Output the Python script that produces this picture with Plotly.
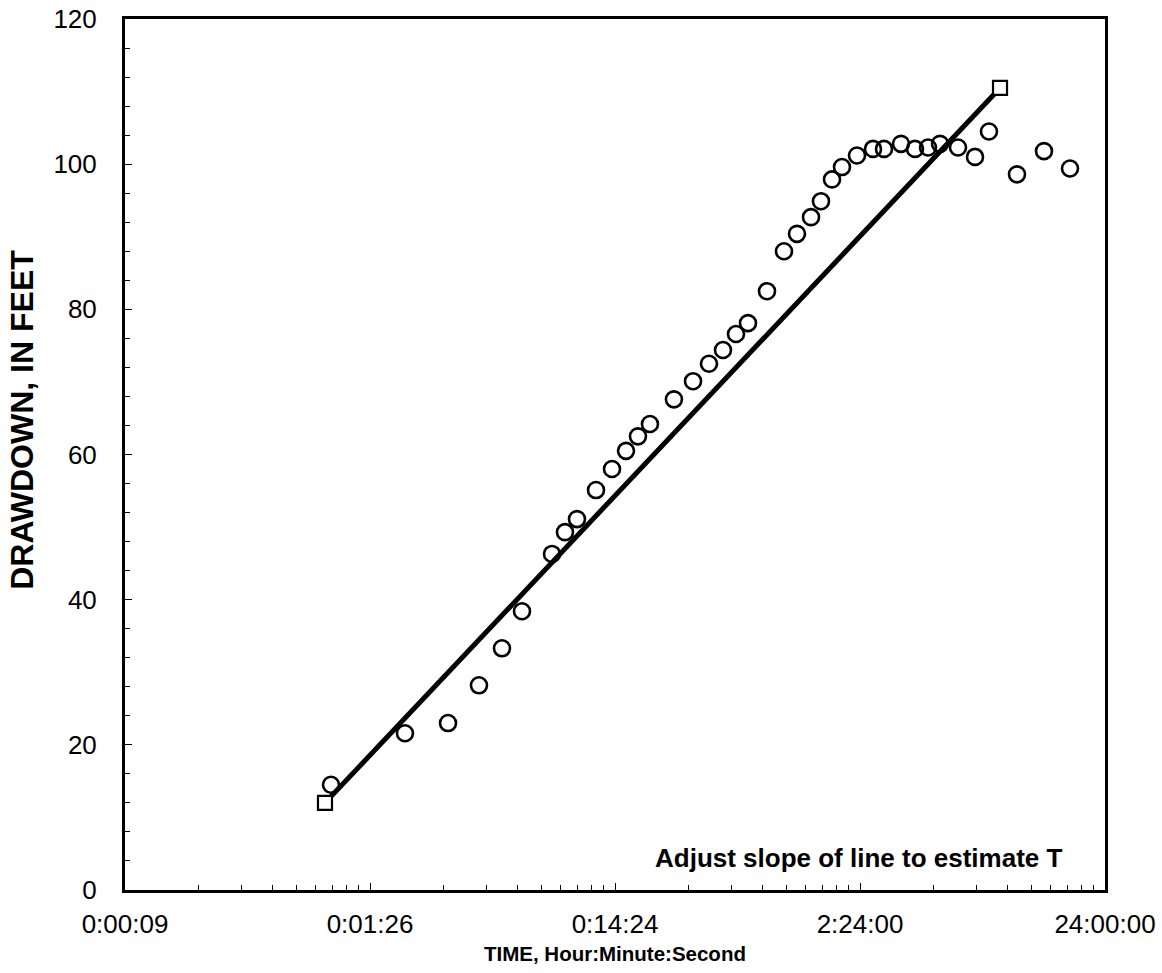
import plotly.graph_objects as go

# Time in days (log axis), drawdown in feet
obs_time_days = [6.93e-4, 1.389e-3, 2.082e-3, 2.785e-3, 3.457e-3, 4.173e-3, 5.531e-3, 6.250e-3,
                 6.996e-3, 8.365e-3, 9.723e-3, 1.109e-2, 1.241e-2, 1.389e-2, 1.740e-2, 2.082e-2,
                 2.419e-2, 2.759e-2, 3.118e-2, 3.490e-2, 4.173e-2, 4.895e-2, 5.531e-2, 6.310e-2,
                 6.930e-2, 7.687e-2, 8.443e-2, 9.723e-2, 0.1130, 0.1253, 0.1470, 0.1677,
                 0.1895, 0.2121, 0.2512, 0.2947, 0.3361, 0.4373, 0.5636, 0.7197]
obs_drawdown_ft = [14.5, 21.6, 23.0, 28.2, 33.3, 38.4, 46.3, 49.3,
                   51.1, 55.1, 58.0, 60.5, 62.5, 64.2, 67.6, 70.1,
                   72.5, 74.4, 76.6, 78.1, 82.5, 88.0, 90.4, 92.7,
                   94.9, 97.9, 99.6, 101.2, 102.1, 102.1, 102.8, 102.1,
                   102.3, 102.8, 102.3, 101.0, 104.5, 98.6, 101.8, 99.4]

fit_time_days = [6.55e-4, 0.3728]
fit_drawdown_ft = [12.0, 110.5]

x_tick_vals = [1e-4, 1e-3, 1e-2, 1e-1, 1.0]
x_tick_text = ["0:00:09", "0:01:26", "0:14:24", "2:24:00", "24:00:00"]
x_minor_vals = [m * 10.0 ** e for e in range(-4, 0) for m in range(2, 10)]

FONT = "Arial, Liberation Sans, Helvetica, sans-serif"

fig = go.Figure()
fig.add_trace(go.Scatter(
    x=obs_time_days, y=obs_drawdown_ft, mode="markers",
    marker=dict(symbol="circle-open", size=16, color="black", line=dict(width=2.6, color="black")),
    showlegend=False, hoverinfo="x+y"))
fig.add_trace(go.Scatter(
    x=fit_time_days, y=fit_drawdown_ft, mode="lines",
    line=dict(color="black", width=5), showlegend=False))
fig.add_trace(go.Scatter(
    x=fit_time_days, y=fit_drawdown_ft, mode="markers",
    marker=dict(symbol="square", size=14, color="white", line=dict(width=2.2, color="black")),
    showlegend=False))

fig.update_xaxes(
    type="log", range=[-4, 0], automargin=False,
    tickmode="array", tickvals=x_tick_vals, ticktext=x_tick_text,
    ticks="inside", ticklen=7, tickwidth=1, tickcolor="black",
    minor=dict(tickmode="array", tickvals=x_minor_vals, ticks="inside", ticklen=5,
               tickwidth=1, tickcolor="black", showgrid=False),
    showgrid=False, zeroline=False,
    showline=True, linewidth=3, linecolor="black", mirror=True,
    tickfont=dict(family=FONT, size=26, color="black"),
    ticklabelstandoff=9,
)
fig.update_yaxes(
    range=[0, 120], tickmode="linear", tick0=0, dtick=20, automargin=False,
    ticks="inside", ticklen=7, tickwidth=1, tickcolor="black",
    minor=dict(dtick=4, ticks="inside", ticklen=5, tickwidth=1, tickcolor="black", showgrid=False),
    showgrid=False, zeroline=False,
    showline=True, linewidth=3, linecolor="black", mirror=True,
    tickfont=dict(family=FONT, size=26, color="black"),
    ticklabelstandoff=20,
)

fig.add_annotation(
    text="<b>DRAWDOWN, IN FEET</b>", textangle=-90,
    xref="paper", yref="paper", x=-0.105, y=0.54, xanchor="center", yanchor="middle",
    showarrow=False, font=dict(family=FONT, size=32, color="black"))

fig.add_annotation(
    text="<b>TIME, Hour:Minute:Second</b>",
    xref="paper", yref="paper", x=0.5, y=-0.073, xanchor="center", yanchor="middle",
    showarrow=False, font=dict(family=FONT, size=20.5, color="black"))

fig.add_annotation(
    text="<b>Adjust slope of line to estimate T</b>",
    xref="paper", yref="paper", x=0.958, y=0.037, xanchor="right", yanchor="middle",
    showarrow=False, font=dict(family=FONT, size=26, color="black"))

fig.update_layout(
    width=1162, height=973,
    margin=dict(l=125, r=57, t=19, b=83),
    paper_bgcolor="white", plot_bgcolor="white",
)

fig.write_html("out.html")
